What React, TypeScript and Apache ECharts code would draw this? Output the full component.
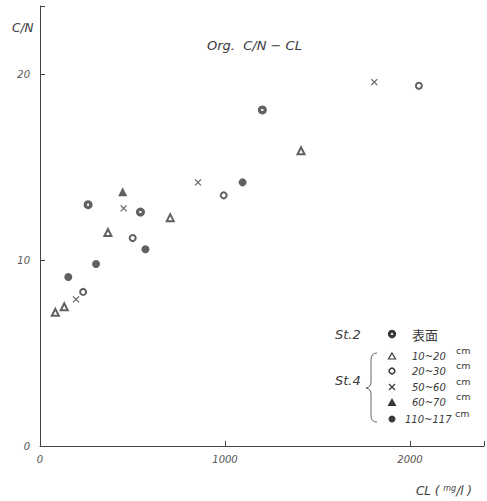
import React, { useEffect, useRef } from 'react';
import * as echarts from 'echarts';

// Cl (mg/l) and C/N values for each group
const st2X = [260, 543, 1202];
const st2Y = [13.0, 12.6, 18.1];
const d10X = [83, 131, 367, 704, 1411];
const d10Y = [7.2, 7.5, 11.5, 12.3, 15.9];
const d20X = [233, 501, 993, 2048];
const d20Y = [8.3, 11.2, 13.5, 19.4];
const d50X = [195, 452, 854, 1807];
const d50Y = [7.9, 12.8, 14.2, 19.6];
const d60X = [447];
const d60Y = [13.7];
const d110X = [153, 303, 570, 1095];
const d110Y = [9.1, 9.8, 10.6, 14.2];

const depthLabels = ['10~20', '20~30', '50~60', '60~70', '110~117'];
const xTicks = [0, 1000, 2000];
const yTicks = [0, 10, 20];

const INK = '#3a3a3a';
const FONT = '"DejaVu Sans", sans-serif';
const CROSS = 'path://M0,0L10,10M10,0L0,10';
const DOTTED_FILL = {
  type: 'radial',
  x: 0.5,
  y: 0.5,
  r: 0.5,
  colorStops: [
    { offset: 0, color: '#eee' },
    { offset: 0.22, color: '#eee' },
    { offset: 0.32, color: INK },
    { offset: 1, color: INK },
  ],
};

const zip = (xs: number[], ys: number[]) => xs.map((x, i) => [x, ys[i]]);

export default function App() {
  const ref = useRef<HTMLDivElement>(null);
  useEffect(() => {
    if (!ref.current) return;
    echarts.graphic.registerShape(
      'brace',
      echarts.graphic.extendPath(
        'M 377 353 Q 371 353 371 360 L 371 382 Q 371 387 366 388 Q 371 389 371 394 L 371 416 Q 371 422 377 422',
        {}
      ) as any
    );
    const chart = echarts.init(ref.current, null, { renderer: 'svg' });

    const txt = (text: string, x: number, y: number, size: number, extra: any = {}) => ({
      type: 'text',
      x,
      y,
      silent: true,
      style: {
        text,
        fontSize: size,
        fontFamily: FONT,
        fontStyle: 'italic',
        fill: INK,
        verticalAlign: 'middle',
        align: 'left',
        ...extra,
      },
    });

    const legendRowsY = [356, 371, 387, 402, 419];
    const legendSymbols: any[] = [
      { type: 'polygon', shape: { points: [[392, 353], [395.5, 359], [388.5, 359]] }, style: { fill: '#fff', stroke: INK, lineWidth: 1.2 } },
      { type: 'circle', shape: { cx: 392, cy: 371, r: 2.8 }, style: { fill: '#fff', stroke: INK, lineWidth: 1.6 } },
      { type: 'polyline', shape: { points: [[389, 384], [395, 390]] }, style: { stroke: INK, lineWidth: 1.2 } },
      { type: 'polyline', shape: { points: [[395, 384], [389, 390]] }, style: { stroke: INK, lineWidth: 1.2 } },
      { type: 'polygon', shape: { points: [[392, 398], [396.5, 406], [387.5, 406]] }, style: { fill: INK } },
      { type: 'circle', shape: { cx: 392, cy: 419, r: 3.5 }, style: { fill: INK } },
    ];

    const graphics: any[] = [
      txt('C/N', 12, 28, 12),
      txt('Org.  C/N − CL', 207, 45, 13),
      {
        type: 'text',
        x: 472,
        y: 491,
        silent: true,
        style: {
          text: '{a|CL ( }{b|mg}{a|/l )}',
          align: 'right',
          verticalAlign: 'middle',
          rich: {
            a: { fontSize: 12, fontFamily: FONT, fontStyle: 'italic', fill: INK },
            b: { fontSize: 8, fontFamily: FONT, fontStyle: 'italic', fill: INK, padding: [0, 0, 6, 0] },
          },
        },
      },
      txt('St.2', 335, 334, 13),
      { type: 'circle', shape: { cx: 392, cy: 334, r: 4.2 }, style: { fill: DOTTED_FILL } },
      txt('表面', 412, 334, 13, { fontStyle: 'normal', fontFamily: '"Noto Sans CJK JP", sans-serif' }),
      txt('St.4', 335, 380, 13),
      { type: 'brace', silent: true, style: { fill: 'none', stroke: '#666', lineWidth: 1 } },
      ...legendSymbols,
      ...depthLabels.map((l, i) => txt(l, i === 4 ? 405 : 412, legendRowsY[i], 10)),
      ...depthLabels.map((l, i) => txt('cm', i === 4 ? 455 : 456, legendRowsY[i] - 6, 9.5, { fontStyle: 'normal' })),
    ];

    const labelFmt = (ticks: number[]) => (v: number) => (ticks.includes(v) ? String(v) : '');

    chart.setOption({
      animation: false,
      backgroundColor: '#fff',
      grid: { left: 40, top: 6, width: 448, height: 440 },
      xAxis: {
        type: 'value',
        min: 0,
        max: 2400,
        interval: 1000,
        axisLine: { show: true, lineStyle: { color: '#444', width: 1 } },
        axisTick: { show: true, inside: true, length: 5, lineStyle: { color: '#444' } },
        splitLine: { show: false },
        axisLabel: {
          margin: 8,
          color: '#555',
          fontSize: 10,
          fontStyle: 'italic',
          fontFamily: FONT,
          formatter: labelFmt(xTicks),
        },
      },
      yAxis: {
        type: 'value',
        min: 0,
        max: 23.7,
        interval: 10,
        axisLine: { show: true, lineStyle: { color: '#444', width: 1 } },
        axisTick: { show: true, inside: true, length: 5, lineStyle: { color: '#444' } },
        splitLine: { show: false },
        axisLabel: {
          margin: 10,
          color: '#555',
          fontSize: 10,
          fontStyle: 'italic',
          fontFamily: FONT,
          formatter: labelFmt(yTicks),
        },
      },
      series: [
        { type: 'scatter', name: 'St.2 表面', data: zip(st2X, st2Y), symbol: 'circle', symbolSize: 9, itemStyle: { color: DOTTED_FILL } },
        { type: 'scatter', name: 'St.4 10~20 cm', data: zip(d10X, d10Y), symbol: 'emptyTriangle', symbolSize: 7, itemStyle: { color: INK, borderColor: INK, borderWidth: 1.2 } },
        { type: 'scatter', name: 'St.4 20~30 cm', data: zip(d20X, d20Y), symbol: 'emptyCircle', symbolSize: 6, itemStyle: { color: INK, borderColor: INK, borderWidth: 1.6 } },
        { type: 'scatter', name: 'St.4 50~60 cm', data: zip(d50X, d50Y), symbol: CROSS, symbolSize: 6, itemStyle: { color: 'none', borderColor: INK, borderWidth: 1.2 } },
        { type: 'scatter', name: 'St.4 60~70 cm', data: zip(d60X, d60Y), symbol: 'triangle', symbolSize: 9, itemStyle: { color: INK } },
        { type: 'scatter', name: 'St.4 110~117 cm', data: zip(d110X, d110Y), symbol: 'circle', symbolSize: 8, itemStyle: { color: INK } },
      ],
      graphic: graphics,
    });
    return () => chart.dispose();
  }, []);
  return (
    <div
      ref={ref}
      style={{ position: 'fixed', left: 0, top: 0, width: 487, height: 501, background: '#fff' }}
    />
  );
}
